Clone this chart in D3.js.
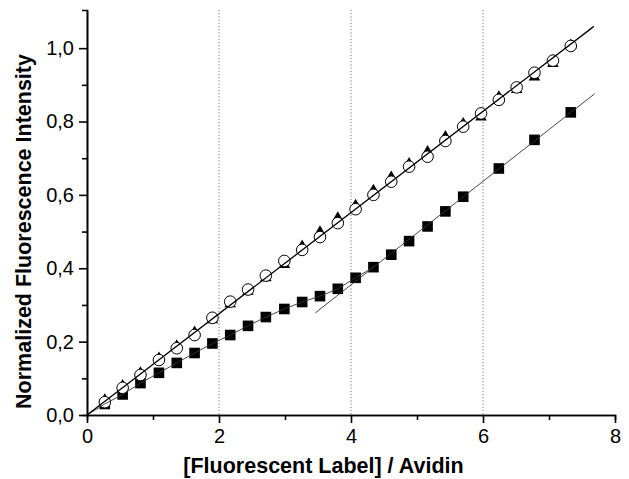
<!DOCTYPE html>
<html>
<head>
<meta charset="utf-8">
<script src="https://cdn.jsdelivr.net/npm/d3@7"></script>
<style>
  body { margin: 0; background: #fff; }
  .axis text { font-family: "Liberation Sans", Arial, sans-serif; font-size: 20px; fill: #000; }
  .axis path, .axis line { stroke: #000; stroke-width: 1.6px; }
  .title { font-family: "Liberation Sans", Arial, sans-serif; font-size: 21.5px; font-weight: bold; }
</style>
</head>
<body>
<div class="chart"></div>
<script>

// Data

// label / avidin ratio for the circle and triangle series
const ratios = [0.27, 0.54, 0.81, 1.09, 1.36, 1.63, 1.90, 2.17, 2.44, 2.71, 2.99, 3.26, 3.53, 3.80,
    4.07, 4.34, 4.61, 4.88, 5.16, 5.43, 5.70, 5.97, 6.24, 6.51, 6.78, 7.06, 7.33];

// open circles
const circleValues = [0.035, 0.074, 0.109, 0.150, 0.182, 0.218, 0.265, 0.309, 0.342, 0.380, 0.420,
    0.450, 0.485, 0.523, 0.561, 0.600, 0.636, 0.677, 0.704, 0.747, 0.786, 0.822, 0.859, 0.893,
    0.933, 0.966, 1.006];

// filled triangles
const triangleValues = [0.041, 0.080, 0.115, 0.155, 0.188, 0.226, 0.259, 0.303, 0.337, 0.374, 0.410,
    0.460, 0.499, 0.537, 0.571, 0.612, 0.648, 0.685, 0.718, 0.759, 0.794, 0.812, 0.867, 0.887,
    0.921, 0.958, 1.008];

// filled squares (own x values, larger steps at the end)
const squareRatios = [0.27, 0.54, 0.81, 1.09, 1.36, 1.63, 1.90, 2.17, 2.44, 2.71, 2.99, 3.26, 3.53,
    3.80, 4.07, 4.34, 4.61, 4.88, 5.16, 5.43, 5.70, 6.24, 6.78, 7.33];
const squareValues = [0.030, 0.056, 0.087, 0.115, 0.142, 0.169, 0.195, 0.218, 0.243, 0.267, 0.289,
    0.308, 0.324, 0.344, 0.374, 0.403, 0.437, 0.474, 0.514, 0.555, 0.595, 0.672, 0.750, 0.825];

// fit ranges
const circleFitRange = [0, 7.68];
const squareLowEnd = 4.4;           // first regime: joined from the origin
const squareHighStart = 4.0;        // second regime: straight fit
const squareHighRange = [3.46, 7.69];

// ticks
const xTicks = [0, 2, 4, 6, 8];
const xMinorTicks = [1, 3, 5, 7];
const yTicks = [0, 0.2, 0.4, 0.6, 0.8, 1.0];
const yMinorTicks = [0.1, 0.3, 0.5, 0.7, 0.9];
const gridLines = [2, 4, 6];

// Layout
const W = 629, H = 479;
const margin = {top: 10, left: 87, right: 14, bottom: 64};
const width = W - margin.left - margin.right;
const height = H - margin.top - margin.bottom;

const svg = d3.select(".chart").append("svg")
    .attr("width", W)
    .attr("height", H)
    .append("g")
    .attr("transform", `translate(${margin.left},${margin.top})`);

const xScale = d3.scaleLinear().domain([0, 8]).range([0, width]);
const yScale = d3.scaleLinear().domain([0, 1.104]).range([height, 0]);

// dotted vertical grid lines
svg.selectAll(".grid")
    .data(gridLines)
    .join("line")
    .attr("class", "grid")
    .attr("x1", d => xScale(d)).attr("x2", d => xScale(d))
    .attr("y1", yScale(1.104)).attr("y2", yScale(0))
    .attr("stroke", "#777")
    .attr("stroke-width", 1)
    .attr("stroke-dasharray", "1.2,2");

// Axes
const fmt = d => d3.format(".1f")(d).replace(".", ",");

svg.append("g")
    .attr("class", "axis")
    .attr("transform", `translate(0,${height})`)
    .call(d3.axisBottom(xScale).tickValues(xMinorTicks).tickSize(5).tickFormat(""));

svg.append("g")
    .attr("class", "axis")
    .attr("transform", `translate(0,${height})`)
    .call(d3.axisBottom(xScale).tickValues(xTicks).tickSize(8).tickSizeOuter(0).tickPadding(6).tickFormat(d3.format("d")));

svg.append("g")
    .attr("class", "axis")
    .call(d3.axisLeft(yScale).tickValues(yMinorTicks).tickSize(5).tickFormat(""));

svg.append("g")
    .attr("class", "axis")
    .call(d3.axisLeft(yScale).tickValues(yTicks).tickSize(8).tickSizeOuter(0).tickPadding(5).tickFormat(fmt));

// Axis titles
svg.append("text")
    .attr("class", "title")
    .attr("x", 323.5 - margin.left)
    .attr("y", 473 - margin.top)
    .attr("text-anchor", "middle")
    .text("[Fluorescent Label] / Avidin");

svg.append("text")
    .attr("class", "title")
    .attr("transform", `translate(${31 - margin.left},${231.5 - margin.top}) rotate(-90)`)
    .attr("text-anchor", "middle")
    .text("Normalized Fluorescence Intensity");

// Series
const circles = ratios.map((r, i) => ({x: r, y: circleValues[i]}));
const triangles = ratios.map((r, i) => ({x: r, y: triangleValues[i]}));
const squares = squareRatios.map((r, i) => ({x: r, y: squareValues[i]}));

// straight fit through origin for the circle + triangle data
const both = circles.concat(triangles);
const slope0 = d3.sum(both, d => d.x * d.y) / d3.sum(both, d => d.x * d.x);

// least squares fit for the upper square regime
const high = squares.filter(d => d.x >= squareHighStart);
const mx = d3.mean(high, d => d.x), my = d3.mean(high, d => d.y);
const slopeH = d3.sum(high, d => (d.x - mx) * (d.y - my)) / d3.sum(high, d => (d.x - mx) ** 2);
const icptH = my - slopeH * mx;

const line = d3.line().x(d => xScale(d.x)).y(d => yScale(d.y));

// triangles
const tri = d3.symbol().type(d3.symbolTriangle).size(58);
svg.selectAll(".tri")
    .data(triangles)
    .join("path")
    .attr("class", "tri")
    .attr("d", tri)
    .attr("transform", d => `translate(${xScale(d.x)},${yScale(d.y)})`)
    .attr("fill", "#000");

// squares
svg.selectAll(".sq")
    .data(squares)
    .join("rect")
    .attr("class", "sq")
    .attr("x", d => xScale(d.x) - 5.3)
    .attr("y", d => yScale(d.y) - 5.3)
    .attr("width", 10.6)
    .attr("height", 10.6)
    .attr("fill", "#000");

// circles, hollow with white inside
svg.selectAll(".circ")
    .data(circles)
    .join("circle")
    .attr("class", "circ")
    .attr("cx", d => xScale(d.x))
    .attr("cy", d => yScale(d.y))
    .attr("r", 5.8)
    .attr("fill", "#fff")
    .attr("stroke", "#000")
    .attr("stroke-width", 1);

// lines on top
svg.append("path")
    .datum([{x: 0, y: 0}].concat(squares.filter(d => d.x <= squareLowEnd)))
    .attr("d", line)
    .attr("fill", "none")
    .attr("stroke", "#333")
    .attr("stroke-width", 0.9);

svg.append("path")
    .datum(squareHighRange.map(x => ({x: x, y: icptH + slopeH * x})))
    .attr("d", line)
    .attr("fill", "none")
    .attr("stroke", "#333")
    .attr("stroke-width", 0.9);

svg.append("path")
    .datum(circleFitRange.map(x => ({x: x, y: slope0 * x})))
    .attr("d", line)
    .attr("fill", "none")
    .attr("stroke", "#000")
    .attr("stroke-width", 1.3);

</script>
</body>
</html>
